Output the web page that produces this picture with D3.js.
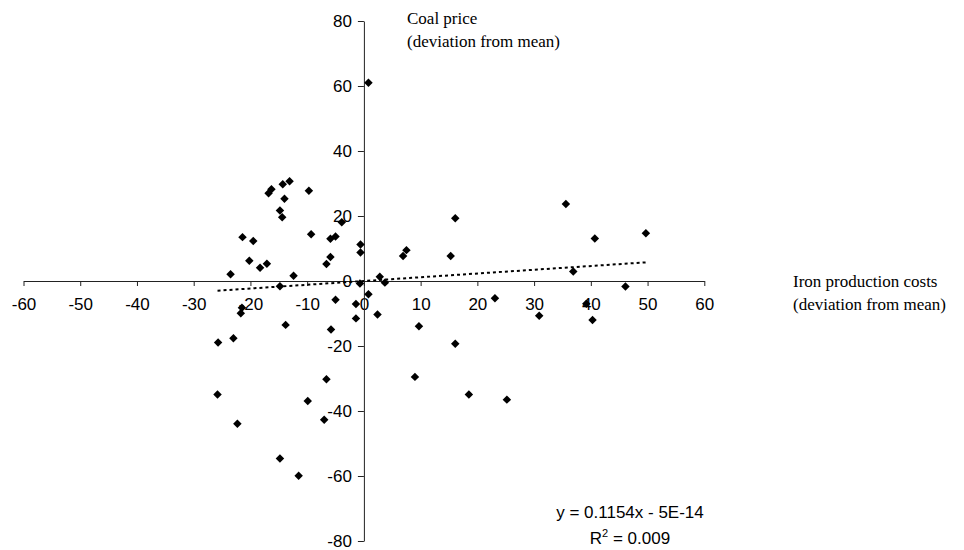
<!DOCTYPE html>
<html>
<head>
<meta charset="utf-8">
<script src="https://cdn.jsdelivr.net/npm/d3@7"></script>
<style>
  body { margin: 0; background: #fff; }
  svg { display: block; }
  .tick text { font-family: "Liberation Sans", Arial, sans-serif; font-size: 17px; fill: #000; }
  .title { font-family: "Liberation Serif", "Times New Roman", serif; font-size: 17px; fill: #000; }
  .eq { font-family: "Liberation Sans", Arial, sans-serif; font-size: 17px; fill: #000; }
</style>
</head>
<body>
<div id="chart"></div>
<script>
// Iron production costs (deviation from mean)
const ironCost = [-23.5, -21.4, -19.5, -20.2, -18.3, -17.1, -16.8, -16.3, -14.3, -13.1,
  -14.0, -14.8, -14.4, -12.4, -14.8, -9.7, -9.3, -6.6, -5.9, -5.9,
  -5.0, -3.9, -0.6, -0.6, -0.7, 2.8, 3.7, 0.8, 6.9, 7.5,
  15.3, 16.1, 23.1, 35.6, 36.9, 39.2, 40.7, 46.1, 49.7, 2.4,
  9.7, 30.9, 40.3, 16.1, 9.0, 18.5, 25.2, -5.0, -1.4, -1.4,
  -21.5, -21.7, -13.8, -5.8, -25.7, -23.0, -6.6, -25.8, -9.9, -7.0,
  -22.3, -14.8, -11.5, 0.8];
// Coal price (deviation from mean)
const coalPrice = [2.1, 13.5, 12.3, 6.2, 4.1, 5.3, 27.0, 28.2, 29.8, 30.7,
  25.3, 21.7, 19.6, 1.6, -1.6, 27.8, 14.4, 5.2, 7.4, 13.0,
  13.7, 18.1, 11.2, 8.8, -0.8, 1.3, -0.5, -4.1, 7.7, 9.5,
  7.7, 19.3, -5.3, 23.7, 2.9, -7.0, 13.1, -1.7, 14.7, -10.3,
  -13.9, -10.7, -12.0, -19.3, -29.5, -34.9, -36.5, -5.8, -7.1, -11.5,
  -8.2, -9.9, -13.5, -14.9, -18.9, -17.6, -30.2, -34.9, -36.9, -42.7,
  -43.9, -54.6, -59.9, 61.0];
const xTicks = [-60, -50, -40, -30, -20, -10, 0, 10, 20, 30, 40, 50, 60];
const yTicks = [-80, -60, -40, -20, 0, 20, 40, 60, 80];
const slope = 0.1154, intercept = -5e-14;

const W = 964, H = 550;
const svg = d3.select("#chart").append("svg")
    .attr("width", W)
    .attr("height", H);

const x = d3.scaleLinear().domain([-60, 60]).range([23.5, 704.3]);
const y = d3.scaleLinear().domain([-80, 80]).range([541, 21]);

const data = ironCost.map((v, i) => ({x: v, y: coalPrice[i]}));

// axes crossing at the origin (plain hyphen for negatives, like Excel)
svg.append("g")
    .attr("transform", `translate(0,${y(0)})`)
    .call(d3.axisBottom(x).tickValues(xTicks).tickFormat(d => String(d))
        .tickSize(5).tickSizeOuter(0).tickPadding(12));
svg.append("g")
    .attr("transform", `translate(${x(0)},0)`)
    .call(d3.axisLeft(y).tickValues(yTicks).tickFormat(d => String(d))
        .tickSize(6).tickSizeOuter(0).tickPadding(6));
svg.selectAll(".domain, .tick line").attr("stroke", "#222");

// trend line
const xr = d3.extent(ironCost);
svg.append("line")
    .attr("x1", x(xr[0])).attr("y1", y(slope * xr[0] + intercept))
    .attr("x2", x(xr[1])).attr("y2", y(slope * xr[1] + intercept))
    .attr("stroke", "#000")
    .attr("stroke-width", 2)
    .attr("stroke-dasharray", "3,3");

// diamonds
const sym = d3.symbol().type(d3.symbolSquare).size(36);
svg.selectAll("path.pt").data(data)
    .enter().append("path")
    .attr("class", "pt")
    .attr("d", sym)
    .attr("transform", d => `translate(${x(d.x)},${y(d.y)}) rotate(45)`)
    .attr("fill", "#000");

// axis titles
svg.append("text").attr("class", "title").attr("x", 407).attr("y", 24).text("Coal price");
svg.append("text").attr("class", "title").attr("x", 407).attr("y", 47).text("(deviation from mean)");
svg.append("text").attr("class", "title").attr("x", 793).attr("y", 287).text("Iron production costs");
svg.append("text").attr("class", "title").attr("x", 793).attr("y", 310).text("(deviation from mean)");

// regression equation
svg.append("text").attr("class", "eq").attr("x", 630).attr("y", 518)
    .attr("text-anchor", "middle").text("y = 0.1154x - 5E-14");
const r2 = svg.append("text").attr("class", "eq").attr("x", 630).attr("y", 544)
    .attr("text-anchor", "middle");
r2.append("tspan").text("R");
r2.append("tspan").attr("dy", -7).attr("font-size", 11).text("2");
r2.append("tspan").attr("dy", 7).text(" = 0.009");
</script>
</body>
</html>
